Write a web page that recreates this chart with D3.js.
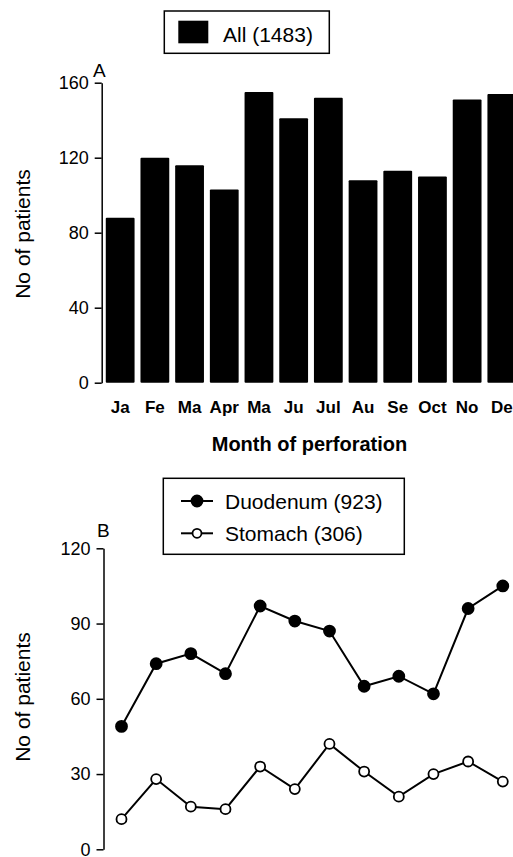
<!DOCTYPE html>
<html>
<head>
<meta charset="utf-8">
<script src="https://cdn.jsdelivr.net/npm/d3@7"></script>
<style>
  body { margin: 0; background: #fff; }
  text { font-family: "Liberation Sans", Arial, sans-serif; fill: #000; }
</style>
</head>
<body>
<svg width="513" height="857"></svg>
<script>
// values
const months = ['Ja', 'Fe', 'Ma', 'Apr', 'Ma ', 'Ju', 'Jul', 'Au', 'Se', 'Oct', 'No', 'De'];
const allCounts = [88, 120, 116, 103, 155, 141, 152, 108, 113, 110, 151, 154];
const duodenum = [49, 74, 78, 70, 97, 91, 87, 65, 69, 62, 96, 105];
const stomach = [12, 28, 17, 16, 33, 24, 42, 31, 21, 30, 35, 27];
const ticksA = [0, 40, 80, 120, 160];
const ticksB = [0, 30, 60, 90, 120];

var svg = d3.select("svg");

// ---- panel A : bars ----
var xA = d3.scaleBand().domain(months).range([103, 519]).paddingInner(0.17).paddingOuter(0.08);
var yA = d3.scaleLinear().domain([0, 160]).range([382.7, 82.7]);

svg.selectAll(".bar")
    .data(allCounts)
    .enter().append("rect")
    .attr("class", "bar")
    .attr("fill", "#000")
    .attr("rx", 1)
    .attr("x", function (d, i) { return xA(months[i]); })
    .attr("y", function (d) { return yA(d); })
    .attr("width", xA.bandwidth())
    .attr("height", function (d) { return yA(0) - yA(d); });

var axA = svg.append("g")
    .attr("transform", "translate(101.7,0)")
    .call(d3.axisLeft(yA).tickValues(ticksA).tickSize(7).tickPadding(6).tickSizeOuter(0));
axA.select(".domain").attr("stroke-width", 1.5);
axA.selectAll(".tick line").attr("stroke-width", 1.5);
axA.selectAll(".tick text").attr("font-size", "18px").attr("font-family", null);

// month labels under the bars
svg.selectAll(".mlab")
    .data(months)
    .enter().append("text")
    .attr("class", "mlab")
    .attr("x", function (d) { return xA(d) + xA.bandwidth() / 2; })
    .attr("y", 412.5)
    .attr("text-anchor", "middle")
    .attr("font-size", "17px")
    .attr("font-weight", "bold")
    .text(function (d) { return d.trim(); });

svg.append("text")
    .attr("x", 309.5).attr("y", 450.5)
    .attr("text-anchor", "middle")
    .attr("font-size", "20px")
    .attr("font-weight", "bold")
    .text("Month of perforation");

svg.append("text")
    .attr("transform", "translate(30,234) rotate(-90)")
    .attr("text-anchor", "middle")
    .attr("font-size", "21px")
    .text("No of patients");

svg.append("text").attr("x", 93).attr("y", 77).attr("font-size", "19px").text("A");

// legend A
svg.append("rect").attr("x", 164.3).attr("y", 11).attr("width", 165).attr("height", 42.3)
    .attr("fill", "none").attr("stroke", "#000").attr("stroke-width", 1.5);
svg.append("rect").attr("x", 178.3).attr("y", 20.7).attr("width", 30).attr("height", 22.6).attr("fill", "#000");
svg.append("text").attr("x", 223).attr("y", 41.5).attr("font-size", "21px").text("All (1483)");

// ---- panel B : lines ----
var xB = d3.scalePoint().domain(months).range([121.5, 502.8]);
var yB = d3.scaleLinear().domain([0, 120]).range([849.3, 548.3]);

var axB = svg.append("g")
    .attr("transform", "translate(103.5,0)")
    .call(d3.axisLeft(yB).tickValues(ticksB).tickSize(7).tickPadding(6).tickSizeOuter(0));
axB.select(".domain").attr("stroke-width", 1.5);
axB.selectAll(".tick line").attr("stroke-width", 1.5);
axB.selectAll(".tick text").attr("font-size", "18px").attr("font-family", null);

var line = d3.line()
    .x(function (d, i) { return xB(months[i]); })
    .y(function (d) { return yB(d); });

function drawSeries(vals, filled) {
    svg.append("path")
        .datum(vals)
        .attr("fill", "none")
        .attr("stroke", "#000")
        .attr("stroke-width", 2)
        .attr("d", line);
    svg.append("g").selectAll("circle")
        .data(vals)
        .enter().append("circle")
        .attr("cx", function (d, i) { return xB(months[i]); })
        .attr("cy", function (d) { return yB(d); })
        .attr("r", filled ? 5.5 : 5)
        .attr("fill", filled ? "#000" : "#fff")
        .attr("stroke", "#000")
        .attr("stroke-width", 1.8);
}
drawSeries(stomach, false);
drawSeries(duodenum, true);

svg.append("text")
    .attr("transform", "translate(30,697) rotate(-90)")
    .attr("text-anchor", "middle")
    .attr("font-size", "21px")
    .text("No of patients");

svg.append("text").attr("x", 97).attr("y", 537).attr("font-size", "19px").text("B");

// legend B
svg.append("rect").attr("x", 163.3).attr("y", 478.3).attr("width", 241).attr("height", 76)
    .attr("fill", "#fff").attr("stroke", "#000").attr("stroke-width", 1.5);
var legB = [
    { name: "Duodenum (923)", filled: true, y: 501 },
    { name: "Stomach (306)", filled: false, y: 533.3 }
];
legB.forEach(function (l) {
    svg.append("line").attr("x1", 181).attr("x2", 213).attr("y1", l.y).attr("y2", l.y)
        .attr("stroke", "#000").attr("stroke-width", 2);
    svg.append("circle").attr("cx", 197).attr("cy", l.y).attr("r", l.filled ? 5.5 : 4.5)
        .attr("fill", l.filled ? "#000" : "#fff").attr("stroke", "#000").attr("stroke-width", 1.8);
    svg.append("text").attr("x", 225).attr("y", l.y + 7.5).attr("font-size", "21px").text(l.name);
});
</script>
</body>
</html>
